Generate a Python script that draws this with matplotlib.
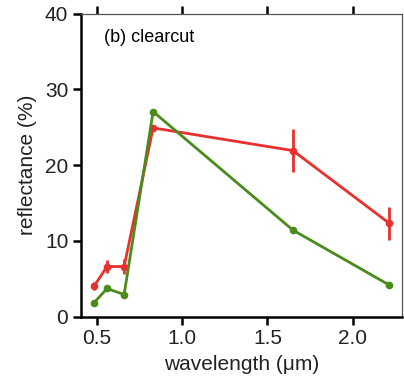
import matplotlib.pyplot as plt

plt.rcParams['font.family'] = ['Liberation Sans', 'DejaVu Sans']

# Landsat band centres (um)
wl = [0.485, 0.56, 0.66, 0.83, 1.65, 2.215]
green_refl = [1.85, 3.7, 2.9, 27.05, 11.4, 4.15]
red_refl = [4.05, 6.6, 6.6, 24.9, 21.9, 12.3]
red_err = [0.5, 0.8, 1.0, 0.4, 2.8, 2.2]

fig = plt.figure(figsize=(4.04, 3.86), dpi=100)
ax = fig.add_axes([0.2, 0.18, 0.795, 0.785])

ax.plot(wl, green_refl, '-o', color='#4a8c1c', lw=2, ms=4.5, zorder=3)
ax.errorbar(wl, red_refl, yerr=red_err, fmt='-o', color='#e8302e',
            lw=2, ms=4.5, elinewidth=2, capsize=0, zorder=2)

ax.set_xlim(0.406, 2.289)
ax.set_ylim(0, 40)
ax.set_xticks([0.5, 1.0, 1.5, 2.0])
ax.set_xticklabels(['0.5', '1.0', '1.5', '2.0'])
ax.set_yticks([0, 10, 20, 30, 40])

ax.tick_params(axis='both', direction='out', length=6, width=1.8,
               labelsize=15, pad=3, labelcolor='#222222')
ax.tick_params(axis='x', top=True)
for s in ['left', 'bottom']:
    ax.spines[s].set_linewidth(1.8)
for s in ['top', 'right']:
    ax.spines[s].set_linewidth(0.9)
    ax.spines[s].set_color('#555555')

ax.set_xlabel('wavelength (\u03bcm)', fontsize=15, labelpad=5, color='#222222')
ax.set_ylabel('reflectance (%)', fontsize=15, labelpad=6, color='#222222')
ax.text(0.543, 36.8, '(b) clearcut', fontsize=13, va='center')

plt.savefig('out.png')
